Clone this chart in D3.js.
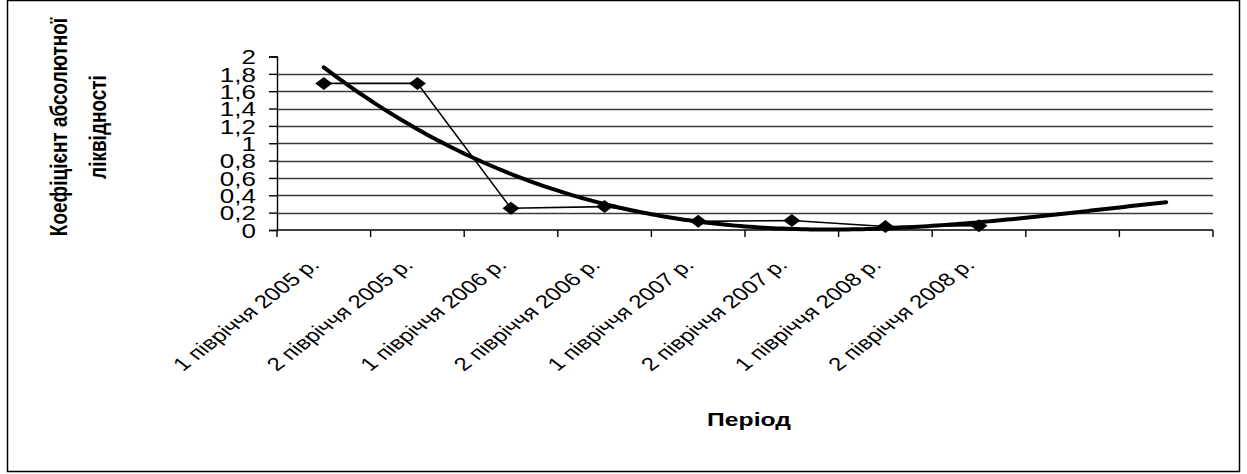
<!DOCTYPE html>
<html>
<head>
<meta charset="utf-8">
<script src="https://cdn.jsdelivr.net/npm/d3@7"></script>
<style>
  body { margin: 0; background: #fff; }
  svg { display: block; font-family: "Liberation Sans", Arial, sans-serif; }
</style>
</head>
<body>
<svg id="chart"></svg>
<script>
// periods (last two slots are only used by the trend forecast)
const periods = [
  "1 півріччя 2005 р.", "2 півріччя 2005 р.",
  "1 півріччя 2006 р.", "2 півріччя 2006 р.",
  "1 півріччя 2007 р.", "2 півріччя 2007 р.",
  "1 півріччя 2008 р.", "2 півріччя 2008 р.",
  "", ""
];
const ratio = [1.69, 1.69, 0.25, 0.27, 0.10, 0.11, 0.04, 0.05];
const yTicks = [0, 0.2, 0.4, 0.6, 0.8, 1, 1.2, 1.4, 1.6, 1.8, 2];
const yTickLabels = ["0", "0,2", "0,4", "0,6", "0,8", "1", "1,2", "1,4", "1,6", "1,8", "2"];

const W = 1247, H = 474;
const plot = { left: 277, right: 1213, top: 56.5, bottom: 230 };
const stretch = 1.3; // the original picture is widened, text included

// cubic least squares trend (like the spreadsheet polynomial trendline)
const fitPoly = (ys, order) => {
  const n = order + 1;
  const A = Array.from({ length: n }, () => new Array(n + 1).fill(0));
  ys.forEach((y, i) => {
    const x = i + 1;
    for (let r = 0; r < n; r++) {
      for (let c = 0; c < n; c++) A[r][c] += Math.pow(x, r + c);
      A[r][n] += y * Math.pow(x, r);
    }
  });
  for (let p = 0; p < n; p++) {
    let m = p;
    for (let r = p + 1; r < n; r++) if (Math.abs(A[r][p]) > Math.abs(A[m][p])) m = r;
    [A[p], A[m]] = [A[m], A[p]];
    for (let r = 0; r < n; r++) {
      if (r === p) continue;
      const f = A[r][p] / A[p][p];
      for (let c = p; c <= n; c++) A[r][c] -= f * A[p][c];
    }
  }
  const coef = A.map((row, i) => row[n] / row[i]);
  return x => coef.reduce((s, k, i) => s + k * Math.pow(x, i), 0);
};

const svg = d3.select("#chart").attr("width", W).attr("height", H);

svg.append("rect").attr("width", W).attr("height", H).attr("fill", "#fff");
svg.append("rect")
  .attr("x", 7.5).attr("y", 0.5)
  .attr("width", 1232).attr("height", 471)
  .attr("fill", "none").attr("stroke", "#000").attr("stroke-width", 1.5);

const x = d3.scaleBand()
  .domain(d3.range(periods.length))
  .range([plot.left, plot.right])
  .padding(0);

// continuous position, period number 1..10
const xc = d3.scaleLinear()
  .domain([0.5, periods.length + 0.5])
  .range([plot.left, plot.right]);

const xPos = i => x(i) + x.bandwidth() / 2;

const y = d3.scaleLinear()
  .domain([0, 2])
  .range([plot.bottom, plot.top]);

// gridlines
svg.append("g")
  .selectAll("line")
  .data(yTicks.filter(t => t > 0 && t < 2))
  .join("line")
  .attr("x1", plot.left).attr("x2", plot.right)
  .attr("y1", d => Math.round(y(d)) + 0.5).attr("y2", d => Math.round(y(d)) + 0.5)
  .attr("stroke", "#3a3a3a").attr("stroke-width", 1.4);

// y axis
const yAxis = svg.append("g")
  .attr("transform", `translate(${plot.left},0)`)
  .call(d3.axisLeft(y).tickValues(yTicks).tickSize(8).tickPadding(0)
    .tickFormat((d, i) => yTickLabels[i]));
yAxis.select(".domain").attr("stroke", "#000").attr("stroke-width", 1.4);
yAxis.selectAll(".tick line").attr("stroke", "#000").attr("stroke-width", 1.4);
yAxis.selectAll("text")
  .attr("x", 0)
  .attr("transform", `translate(-21,0) scale(${stretch},1)`)
  .attr("font-family", "Liberation Sans, Arial, sans-serif")
  .attr("font-size", 20).attr("fill", "#000").attr("dy", "0.36em");

// x axis
const xAxis = svg.append("g")
  .attr("transform", `translate(0,${plot.bottom})`);
xAxis.append("line")
  .attr("x1", plot.left).attr("x2", plot.right)
  .attr("stroke", "#000").attr("stroke-width", 1.4);
xAxis.selectAll(".tk")
  .data(d3.range(periods.length + 1))
  .join("line")
  .attr("class", "tk")
  .attr("x1", d => d < periods.length ? x(d) : plot.right)
  .attr("x2", d => d < periods.length ? x(d) : plot.right)
  .attr("y1", 0).attr("y2", 7)
  .attr("stroke", "#000").attr("stroke-width", 1.4);

svg.append("g")
  .selectAll("text")
  .data(periods)
  .join("text")
  .attr("transform", (d, i) => `translate(${xPos(i) - 3},${plot.bottom + 36}) scale(${stretch},1) rotate(-45)`)
  .attr("text-anchor", "end")
  .attr("font-size", 18.5)
  .attr("fill", "#000")
  .text(d => d);

// data line
const line = d3.line()
  .x((d, i) => xPos(i))
  .y(d => y(d));

svg.append("path")
  .datum(ratio)
  .attr("d", line)
  .attr("fill", "none")
  .attr("stroke", "#000")
  .attr("stroke-width", 1.6);

svg.append("g")
  .selectAll("path")
  .data(ratio)
  .join("path")
  .attr("transform", (d, i) => `translate(${xPos(i)},${y(d)})`)
  .attr("d", "M0,-6.5L8.5,0L0,6.5L-8.5,0Z")
  .attr("fill", "#000");

// trend line (forecast two periods ahead)
const trend = fitPoly(ratio, 3);
const trendPts = d3.range(1, periods.length + 0.001, 0.05);
svg.append("path")
  .datum(trendPts)
  .attr("d", d3.line().x(t => xc(t)).y(t => y(trend(t))))
  .attr("fill", "none")
  .attr("stroke", "#000")
  .attr("stroke-width", 4)
  .attr("stroke-linecap", "round");

// titles
svg.append("text")
  .attr("transform", `translate(749,426) scale(${stretch},1)`)
  .attr("text-anchor", "middle")
  .attr("font-size", 19)
  .attr("font-weight", "bold")
  .text("Період");

svg.append("text")
  .attr("transform", `translate(67,127) scale(${stretch},1) rotate(-90)`)
  .attr("text-anchor", "middle")
  .attr("font-size", 19)
  .attr("font-weight", "bold")
  .text("Коефіцієнт абсолютної");

svg.append("text")
  .attr("transform", `translate(106,127) scale(${stretch},1) rotate(-90)`)
  .attr("text-anchor", "middle")
  .attr("font-size", 19)
  .attr("font-weight", "bold")
  .text("ліквідності");
</script>
</body>
</html>
